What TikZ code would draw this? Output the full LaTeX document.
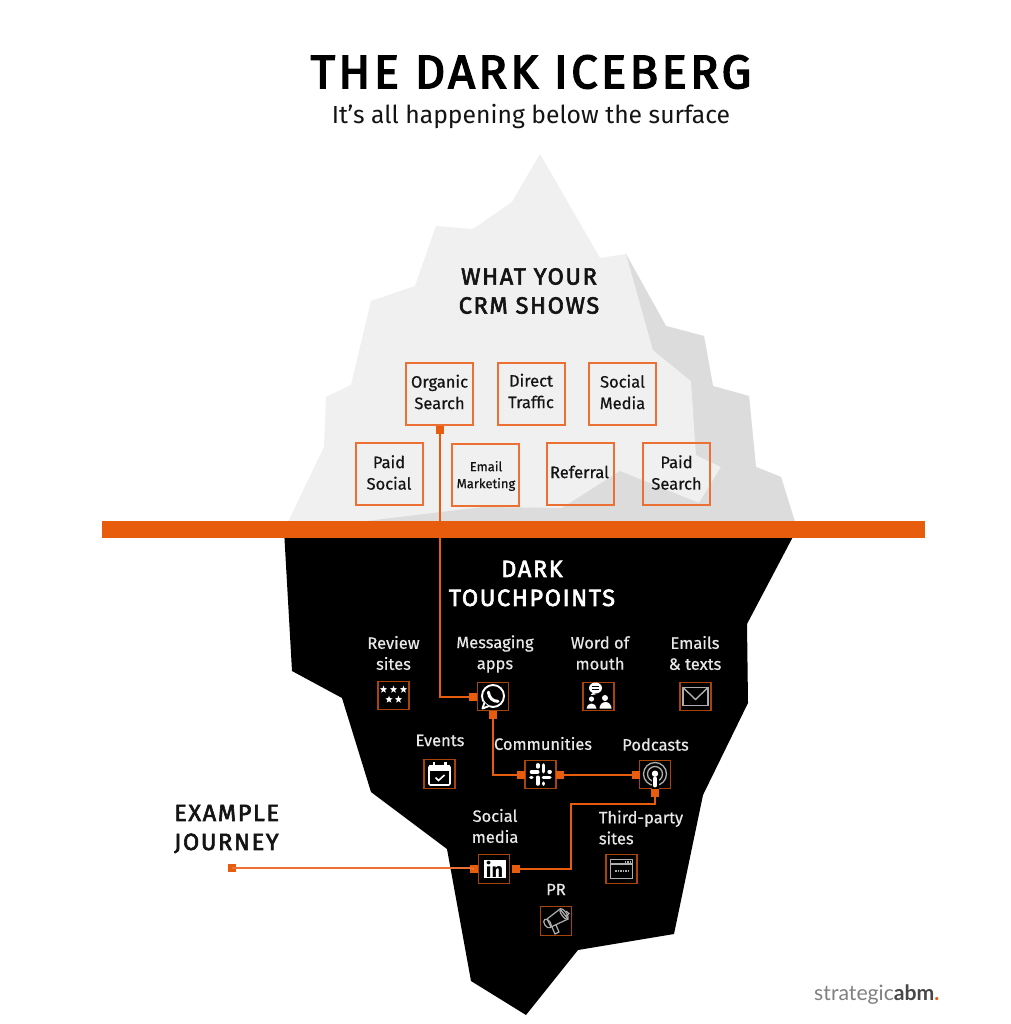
\documentclass[tikz,border=0pt]{standalone}
\usepackage{fontspec}
\setmainfont{Fira Sans}
\newfontfamily\medfont[FakeBold=0.5]{Fira Sans}
\newfontfamily\headfont[FakeBold=2.6,LetterSpace=7]{Fira Sans}
\newfontfamily\titlefont[FakeBold=3.2,LetterSpace=7.3]{Fira Sans}
\newfontfamily\logofont{Lato}
\definecolor{barorange}{HTML}{E85C0D}
\definecolor{boxorange}{HTML}{EC7033}
\definecolor{iconedge}{HTML}{A8430A}
\definecolor{icelight}{HTML}{F0F0F0}
\definecolor{iceshade}{HTML}{DCDCDC}
\definecolor{softwhite}{HTML}{E8E8E8}
\definecolor{inkdark}{HTML}{141414}
\tikzset{
  crmbox/.style={draw=boxorange,line width=2pt,fill=none,inner sep=0,minimum width=67pt,minimum height=62pt},
  crmtext/.style={text=inkdark,align=center,inner sep=0,font=\medfont\fontsize{16.5}{21.5}\selectfont},
  darktext/.style={text=softwhite,align=center,inner sep=0,font=\medfont\fontsize{16.5}{21}\selectfont},
  headtext/.style={align=center,inner sep=0,font=\headfont\fontsize{23.5}{29}\selectfont},
  iconbox/.style={draw=iconedge,line width=1.3pt,fill=black,inner sep=0,minimum width=31pt,minimum height=28.5pt},
  tabsq/.style={fill=barorange,inner sep=0,minimum size=8pt},
  link/.style={draw=barorange,line width=2pt},
  iconline/.style={draw=white,line width=1.6pt},
  icongrey/.style={draw=softwhite!75!black,line width=1.2pt}
}
\newcommand{\icostar}[2]{\fill[white,shift={(#1,#2)}] (270:3.9)--(306:1.6)--(342:3.9)--(18:1.6)--(54:3.9)--(90:1.6)--(126:3.9)--(162:1.6)--(198:3.9)--(234:1.6)--cycle;}
\begin{document}
\begin{tikzpicture}[x=1pt,y=-1pt]
\useasboundingbox (0,0) rectangle (1010,1024);
\fill[white] (0,0) rectangle (1010,1024);

% iceberg above the surface
\fill[icelight] (288,522)--(324,447)--(326,397)--(351,385)--(371,301)--(415,286)--(436,226)--(473,229)--(512,202)--(540,154)--(600,258)--(626,254)--(666,326)--(704,336)--(713,386)--(749,396)--(756,467)--(781,477)--(795,522)--cycle;
\fill[iceshade] (626,254)--(666,326)--(704,336)--(713,386)--(749,396)--(756,467)--(781,477)--(795,522)--(358,522)--(483,507)--(562,508)--(620,471)--(699,503)--(721,467)--(696,455)--(691,381)--(653,350)--cycle;
% iceberg below the surface
\fill[black] (284,530)--(292,671)--(342,698)--(371,792)--(447,849)--(471,981)--(526,1015)--(578,950)--(674,934)--(703,795)--(748,703)--(747,624)--(796.5,530)--cycle;

% headings
\node[inner sep=0,text=black,font=\titlefont\fontsize{47}{50}\selectfont] (title) at (531,72) {THE DARK ICEBERG};
\node[inner sep=0,text=inkdark,font=\fontsize{24.7}{28}\selectfont] (subtitle) at (531,116) {It’s all happening below the surface};
\node[headtext,text=inkdark] (crmhead) at (529,291) {WHAT YOUR\\CRM SHOWS};
\node[headtext,text=white] (darkhead) at (532,583.5) {DARK\\TOUCHPOINTS};
\node[headtext,text=inkdark,align=left,anchor=west] (journey) at (174,829) {EXAMPLE\\JOURNEY};

% CRM boxes
\node[crmbox] (organic) at (439.5,394) {};
\node[crmbox] (direct) at (531,394) {};
\node[crmbox] (socialm) at (622,394) {};
\node[crmbox] (paidsoc) at (389,474) {};
\node[crmbox] (email) at (485.5,474.5) {};
\node[crmbox] (referral) at (580,474) {};
\node[crmbox] (paidsea) at (676,474) {};
\node[crmtext] (organict) at (439.5,392) {Organic\\Search};
\node[crmtext] (directt) at (531,391) {Direct\\Traffic};
\node[crmtext] (socialmt) at (622.5,392) {Social\\Media};
\node[crmtext] (paidsoct) at (389,472.5) {Paid\\Social};
\node[crmtext,font=\medfont\fontsize{13}{17}\selectfont] (emailt) at (486,476) {Email\\Marketing};
\node[crmtext] (referralt) at (579.5,472) {Referral};
\node[crmtext] (paidseat) at (676.5,472.5) {Paid\\Search};

% dark touchpoint labels
\node[darktext] (reviewt) at (393.5,653) {Review\\sites};
\node[darktext] (msgt) at (495,654) {Messaging\\apps};
\node[darktext] (wordt) at (600,653) {Word of\\mouth};
\node[darktext] (mailt) at (695,653) {Emails\\\& texts};
\node[darktext] (eventst) at (440,740.5) {Events};
\node[darktext] (commt) at (543,743.5) {Communities};
\node[darktext] (podt) at (655.5,744.5) {Podcasts};
\node[darktext] (lint) at (495,826) {Social\\media};
\node[darktext,align=left] (thirdt) at (641,827.5) {Third-party\\sites};
\node[darktext] (prt) at (556,889.5) {PR};

% icon boxes
\node[iconbox] (review) at (393.5,695.5) {};
\node[iconbox] (msg) at (493,696.5) {};
\node[iconbox] (word) at (598.5,696.5) {};
\node[iconbox] (mail) at (695.5,696.5) {};
\node[iconbox] (events) at (439.5,774) {};
\node[iconbox] (comm) at (540.5,774.5) {};
\node[iconbox] (pod) at (655,774.5) {};
\node[iconbox] (lin) at (494,869) {};
\node[iconbox] (third) at (621.5,869) {};
\node[iconbox] (pr) at (556,921) {};

% connector tabs
\node[tabsq] (t0) at (439.5,429.5) {};
\node[tabsq] (t1) at (473,696.5) {};
\node[tabsq] (t2) at (493,715) {};
\node[tabsq] (t3) at (521,774.5) {};
\node[tabsq] (t4) at (560,774.5) {};
\node[tabsq] (t5) at (635.5,774.5) {};
\node[tabsq] (t6) at (655,793) {};
\node[tabsq] (t7) at (516,869) {};
\node[tabsq] (t8) at (474,869) {};
\node[tabsq] (t9) at (232,868) {};

% connectors
\path[link] (t0.center) |- (t1.center);
\path[link] (t2.center) |- (t3.center);
\path[link] (t4.center) -- (t5.center);
\path[link] (t6.center) -- ++(0,10.5) -| (570.5,869) -- (t7.center);
\path[link,draw=boxorange,line width=1.8pt] (t9.center) -- (t9.center -| t8.west) -- (t8.center);

% waterline
\fill[barorange] (102,521) rectangle (925,537.5);

% review stars
\begin{scope}[shift={(review.center)}]
\icostar{-10}{-6} \icostar{0}{-6} \icostar{10}{-6}
\icostar{-4.5}{4} \icostar{5}{4}
\end{scope}

% whatsapp
\begin{scope}[shift={(msg.center)}]
\draw[white,line width=1.9pt] (0,-.5) circle[radius=11];
\fill[black] (-10,5) -- (-11.5,13) -- (-3,11) -- cycle;
\draw[white,line width=1.9pt,line join=round] (-8.6,6) -- (-10.5,12) -- (-4.2,9.6);
\draw[white,line width=3pt,line cap=round] (-4.6,-4.4) .. controls (-4,1.5) and (0,5) .. (5,4.8);
\end{scope}

% word of mouth
\begin{scope}[shift={(word.center)}]
\fill[white] (-3,-8.5) ellipse[x radius=6.5,y radius=5.5];
\fill[white] (-8,-1.5) -- (-5,-4) -- (-3,-2) -- cycle;
\draw[black,line width=.9pt] (-6.5,-10) -- (.5,-10) (-6.5,-7.5) -- (.5,-7.5);
\fill[white] (-7,2.5) circle[radius=2.6];
\fill[white] (6.5,1.5) circle[radius=3];
\fill[white] (-12,12) arc[start angle=180,end angle=360,radius=5] -- cycle;
\fill[white] (1,12) arc[start angle=180,end angle=360,x radius=6,y radius=6.5] -- cycle;
\end{scope}

% envelope
\begin{scope}[shift={(mail.center)}]
\draw[icongrey,line width=1.4pt] (-12.5,-9) rectangle (12.5,9);
\draw[icongrey,line width=1.4pt] (-12.5,-9) -- (0,3) -- (12.5,-9);
\end{scope}

% calendar
\begin{scope}[shift={(events.center)}]
\draw[iconline,rounded corners=1.2pt] (-10.5,-8) rectangle (10.5,11);
\fill[white] (-10.5,-9) rectangle (10.5,-3.5);
\fill[white] (-7,-12) rectangle (-4.5,-8);
\fill[white] (4.5,-12) rectangle (7,-8);
\draw[iconline] (-4,3.5) -- (-1,6.5) -- (5,1);
\end{scope}

% slack
\begin{scope}[shift={(comm.center)},white,line width=3.6pt,line cap=round]
\draw (-9,-2.8) -- (-2.8,-2.8);
\draw (-2.8,-9.6) -- (-2.8,-7.6);
\draw (2.8,-9.5) -- (2.8,-2.8);
\draw (8.6,-2.8) -- (9.6,-2.8);
\draw (2.8,2.8) -- (9.4,2.8);
\draw (2.8,8.6) -- (2.8,9.6);
\draw (-2.8,2.8) -- (-2.8,9.5);
\draw (-9.6,2.8) -- (-8.6,2.8);
\end{scope}

% podcast
\begin{scope}[shift={(pod.center)}]
\draw[icongrey,line width=1.3pt] (0,-.5) circle[radius=11.5];
\draw[icongrey,line width=1.3pt] (0,-.5) circle[radius=7.5];
\draw[black,line width=7pt] (0,3) -- (0,14);
\fill[white] (0,-.8) circle[radius=3.2];
\draw[white,line width=3.8pt,line cap=round] (0,4) -- (0,11);
\end{scope}

% linkedin
\fill[white] (483.5,860) rectangle (505.5,878);
\node[inner sep=0,text=black,font=\fontsize{20}{22}\selectfont\bfseries] (lintext) at (494.5,869) {in};

% browser
\begin{scope}[shift={(third.center)}]
\draw[icongrey,line width=1.3pt] (-11,-9.5) rectangle (11,9.5);
\draw[icongrey] (-11,-5) -- (11,-5);
\draw[icongrey,line width=1.6pt,dash pattern=on 1.5pt off 1pt] (3,-7.3) -- (10,-7.3);
\draw[icongrey,line width=2pt,dash pattern=on 1.5pt off 1pt] (-6.5,2) -- (6.5,2);
\end{scope}

% megaphone
\begin{scope}[shift={(pr.center)}]
\draw[icongrey,line join=round] (-9,-2) -- (4,-12) -- (12,-2) -- (-5,6) -- cycle;
\draw[icongrey,rotate around={-55:(8,-7)}] (8,-7) ellipse[x radius=6.4,y radius=2.4];
\draw[icongrey] (10,-10) -- (13,-7.5) -- (10.5,-5);
\draw[icongrey,rotate around={-55:(-8.5,2.5)}] (-8.5,2.5) ellipse[x radius=5,y radius=3];
\draw[icongrey,line join=round] (-4,6) -- (-1,13) -- (3,11) -- (0,4);
\end{scope}

% logo
\node[inner sep=0,anchor=west,font=\fontsize{21.2}{24}\logofont\selectfont] (logo) at (814,995) {\textcolor{black!50}{strategic}\textcolor{black!72}{\bfseries abm}\textcolor{barorange}{\bfseries.}};
\end{tikzpicture}
\end{document}
